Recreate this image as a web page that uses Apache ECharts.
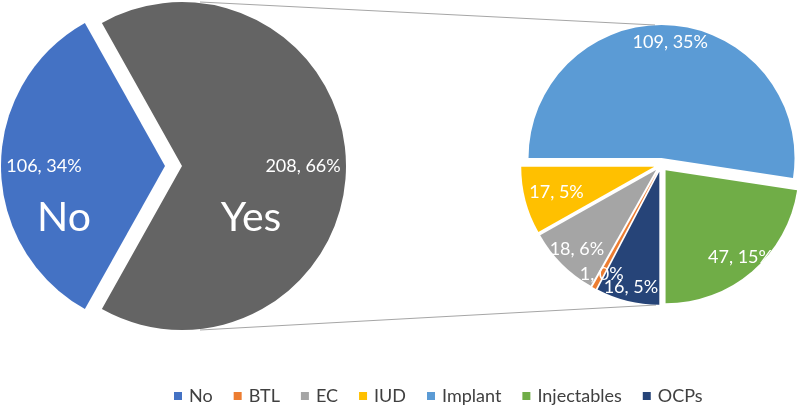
<!DOCTYPE html>
<html lang="en">
<head>
    <meta charset="utf-8">
    <title>Contraceptive use</title>
    <script src="https://cdn.jsdelivr.net/npm/echarts@6/dist/echarts.min.js"></script>
    <style>
        html, body { margin: 0; padding: 0; background: #fff; }
        #main { width: 797px; height: 406px; }
    </style>
</head>
<body>

<div id="main"></div>

<script>
    // data
    var outerNames = ['No', 'Yes'];
    var outerValues = [106, 208];
    var methodNames = ['BTL', 'EC', 'IUD', 'Implant', 'Injectables', 'OCPs'];
    var methodValues = [1, 18, 17, 109, 47, 16];

    // styles
    var outerColors = ['#4472C4', '#646464'];
    var outerExploded = [true, false];
    var methodColors = ['#ED7D31', '#A5A5A5', '#FFC000', '#5B9BD5', '#70AD47', '#264478'];
    // distance of each label centre from the right pie centre (px)
    var methodLabelDist = [121, 116, 105, 120, 119, 123];
    var font = 'Lato';

    function sum(arr) {
        return arr.reduce(function (a, b) { return a + b; }, 0);
    }

    var total = sum(outerValues);

    // layout of the two pies
    var L = {cx: 182, cy: 166, r: 164, explode: 17, labelR: 0.72};
    var R = {cx: 661, cy: 165, r: 133, explode: 7};

    // "No" centred on the left, "Implant" starts at 9 o'clock
    var leftStart = 180 + 180 * outerValues[0] / total;
    var rightStart = 180 + 360 * sum(methodValues.slice(0, methodNames.indexOf('Implant'))) / sum(methodValues);

    function midAngles(values, start) {
        var s = sum(values), acc = start, out = [];
        values.forEach(function (v) {
            var span = 360 * v / s;
            out.push(acc - span / 2);
            acc -= span;
        });
        return out;
    }

    var leftMid = midAngles(outerValues, leftStart);
    var rightMid = midAngles(methodValues, rightStart);

    // ECharts puts inside labels at half radius; push them outwards with padding
    function pushOut(angle, dist, lift) {
        var a = angle * Math.PI / 180;
        var sx = dist * Math.cos(a);
        var sy = -dist * Math.sin(a) + (lift || 0);
        return [Math.max(0, 2 * sy), Math.max(0, -2 * sx), Math.max(0, -2 * sy), Math.max(0, 2 * sx)];
    }

    function pct(v) {
        return v + ', ' + Math.round(v / total * 100) + '%';
    }

    var myChart = echarts.init(document.getElementById('main'));

    var option = {
        backgroundColor: '#fff',
        animation: false,
        textStyle: {fontFamily: font},
        legend: {
            data: ['No'].concat(methodNames),
            left: 174,
            top: 387,
            padding: 0,
            icon: 'rect',
            itemWidth: 8,
            itemHeight: 8,
            itemGap: 21,
            selectedMode: false,
            textStyle: {fontFamily: font, fontSize: 18, color: '#404040', padding: [0, 0, 0, 2]}
        },
        graphic: [
            {
                type: 'line', z: -1,
                shape: {x1: L.cx + 18, y1: L.cy - L.r, x2: R.cx - 6, y2: R.cy - R.r - R.explode},
                style: {stroke: '#a6a6a6', lineWidth: 1}
            },
            {
                type: 'line', z: -1,
                shape: {x1: L.cx + 18, y1: L.cy + L.r, x2: R.cx - 5, y2: R.cy + R.r + R.explode},
                style: {stroke: '#a6a6a6', lineWidth: 1}
            }
        ],
        series: [
            {
                name: 'Use',
                type: 'pie',
                center: [L.cx, L.cy],
                radius: L.r,
                startAngle: leftStart,
                selectedMode: 'multiple',
                selectedOffset: L.explode,
                avoidLabelOverlap: false,
                labelLayout: {hideOverlap: false},
                emphasis: {disabled: true},
                select: {itemStyle: {borderWidth: 0}},
                label: {
                    show: true,
                    position: 'inside',
                    color: '#fff',
                    formatter: function (p) {
                        var tag = p.dataIndex === 0 ? 'nl' : 'nr';
                        return '{v|' + pct(p.value) + '}\n{' + tag + '|' + p.name + '}';
                    },
                    rich: {
                        v: {fontFamily: font, fontSize: 18, lineHeight: 22, color: '#fff'},
                        nl: {fontFamily: font, fontSize: 41, lineHeight: 81, color: '#fff', padding: [0, 0, 0, 40]},
                        nr: {fontFamily: font, fontSize: 41, lineHeight: 81, color: '#fff', padding: [0, 104, 0, 0]}
                    }
                },
                labelLine: {show: false},
                data: outerNames.map(function (n, i) {
                    return {
                        name: n,
                        value: outerValues[i],
                        selected: outerExploded[i],
                        itemStyle: {color: outerColors[i]},
                        label: {padding: pushOut(leftMid[i], L.r * (L.labelR - 0.5), 40.5)}
                    };
                })
            },
            {
                name: 'Method',
                type: 'pie',
                center: [R.cx, R.cy],
                radius: R.r,
                startAngle: rightStart,
                selectedMode: 'multiple',
                selectedOffset: R.explode,
                avoidLabelOverlap: false,
                labelLayout: {hideOverlap: false},
                emphasis: {disabled: true},
                select: {itemStyle: {borderWidth: 0}},
                label: {
                    show: true,
                    position: 'inside',
                    color: '#fff',
                    formatter: function (p) {
                        return '{v|' + pct(p.value) + '}';
                    },
                    rich: {
                        v: {fontFamily: font, fontSize: 18, lineHeight: 22, color: '#fff'}
                    }
                },
                labelLine: {show: false},
                data: methodNames.map(function (n, i) {
                    return {
                        name: n,
                        value: methodValues[i],
                        selected: true,
                        itemStyle: {color: methodColors[i]},
                        label: {padding: pushOut(rightMid[i], methodLabelDist[i] - R.explode - R.r / 2)}
                    };
                })
            }
        ]
    };

    myChart.setOption(option);
</script>
</body>
</html>
